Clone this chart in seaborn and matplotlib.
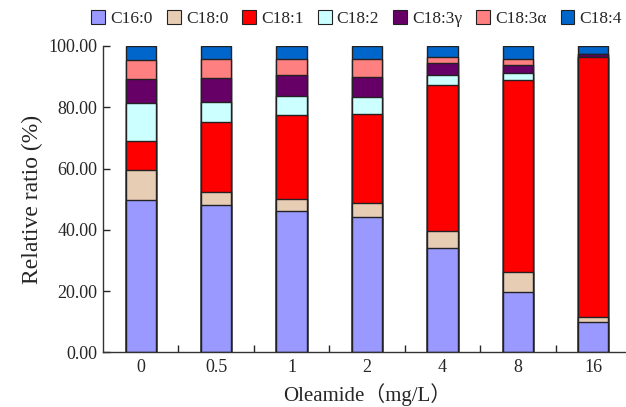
import numpy as np
import pandas as pd
import matplotlib
matplotlib.use("Agg")
import matplotlib.pyplot as plt
import seaborn as sb
from matplotlib.patches import Patch

# Oleamide concentrations (mg/L) and fatty acid composition (%)
doses = ["0", "0.5", "1", "2", "4", "8", "16"]
acids = ["C16:0", "C18:0", "C18:1", "C18:2", "C18:3\u03b3", "C18:3\u03b1", "C18:4"]
c16_0 = [49.6, 48.0, 46.1, 44.1, 34.0, 19.8, 9.8]
c18_0 = [10.0, 4.4, 3.8, 4.7, 5.5, 6.3, 1.8]
c18_1 = [9.4, 22.8, 27.5, 29.0, 47.8, 62.8, 84.8]
c18_2 = [12.3, 6.4, 6.3, 5.4, 3.3, 2.4, 0.1]
c18_3g = [7.9, 7.9, 6.9, 6.7, 4.0, 2.5, 0.8]
c18_3a = [6.2, 6.2, 5.1, 5.8, 1.8, 2.1, 0.1]
c18_4 = [4.6, 4.3, 4.3, 4.3, 3.6, 4.1, 2.6]
colors = ["#9999FF", "#E8CDB5", "#FF0000", "#CCFFFF", "#660066", "#FF8080", "#0066CC"]

series = [c16_0, c18_0, c18_1, c18_2, c18_3g, c18_3a, c18_4]
cum = np.cumsum(np.array(series), axis=0)
df = pd.DataFrame(cum.T, columns=acids)
df["dose"] = doses

sb.set_style("ticks")
plt.rcParams["font.family"] = ["Liberation Serif", "Noto Sans CJK SC"]

fig = plt.figure(figsize=(6.26, 4.07), dpi=100)
ax = fig.add_axes([103 / 626, 1 - 352.3 / 407, 528 / 626, 306.3 / 407])

# stacked bars: draw cumulative totals from the top series down
for name, col in reversed(list(zip(acids, colors))):
    sb.barplot(data=df, x="dose", y=name, color=col, width=0.4,
               edgecolor="#222222", linewidth=1.0, saturation=1, ax=ax)

ax.set_xlim(-0.5, 6.5)
ax.set_ylim(0, 100)
ax.set_yticks(np.arange(0, 101, 20))
ax.set_yticklabels(["%.2f" % v for v in np.arange(0, 101, 20)], fontsize=13)
ax.set_xticks(range(len(doses)))
ax.set_xticklabels(doses, fontsize=13)
ax.set_xticks(np.arange(0.5, 6.5, 1), minor=True)
ax.tick_params(axis="x", which="major", length=0, pad=5)
ax.tick_params(axis="x", which="minor", direction="in", length=5, width=1)
ax.tick_params(axis="y", direction="in", length=5, width=1, pad=4)
for s in ["top", "right"]:
    ax.spines[s].set_visible(False)
for s in ["left", "bottom"]:
    ax.spines[s].set_color("#333333")
    ax.spines[s].set_linewidth(1)

ax.set_xlabel("Oleamide\uff08mg/L\uff09", fontsize=15, labelpad=5)
ax.set_ylabel("Relative ratio (%)", fontsize=17, labelpad=4)

handles = [Patch(facecolor=c, edgecolor="#222222", linewidth=0.8) for c in colors]
fig.legend(handles, acids, loc="upper center", bbox_to_anchor=(0.57, 1.0), ncol=7,
           frameon=False, fontsize=12.5, handlelength=0.8, handleheight=0.8,
           handletextpad=0.3, columnspacing=0.8, borderaxespad=0.2)

plt.savefig("out.png", dpi=100)
